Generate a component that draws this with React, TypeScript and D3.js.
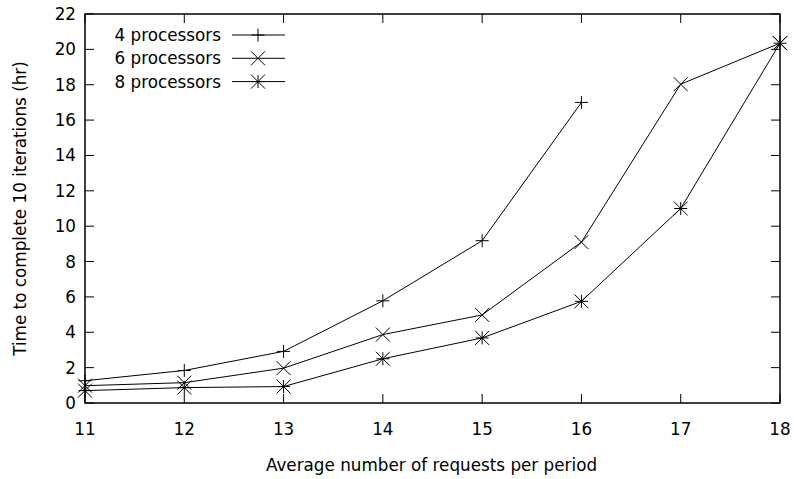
import React, { useEffect, useRef } from 'react';
import * as d3 from 'd3';

// data
const xValues = [11, 12, 13, 14, 15, 16, 17, 18];
const proc4 = [1.26, 1.84, 2.92, 5.78, 9.18, 17.0];
const proc6 = [0.98, 1.15, 1.97, 3.87, 4.98, 9.1, 18.03, 20.35];
const proc8 = [0.7, 0.87, 0.93, 2.5, 3.68, 5.75, 11.0, 20.35];
const seriesNames = ['4 processors', '6 processors', '8 processors'];
const yTicks = [0, 2, 4, 6, 8, 10, 12, 14, 16, 18, 20, 22];

const FONT = 'DejaVu Sans, Verdana, sans-serif';
const FS = 16.8;

export default function App() {
  const ref = useRef<SVGSVGElement>(null);

  useEffect(() => {
    const svg = d3.select(ref.current);
    svg.selectAll('*').remove();

    const width = 794;
    const height = 479;
    const margin = { top: 14, right: 14, bottom: 76, left: 85 };
    const x0 = margin.left, x1 = width - margin.right;
    const y0 = height - margin.bottom, y1 = margin.top;

    const x = d3.scaleLinear().domain([11, 18]).range([x0, x1]);
    const y = d3.scaleLinear().domain([0, 22]).range([y0, y1]);

    svg.append('rect').attr('width', width).attr('height', height).attr('fill', '#fff');

    const tick = 9;
    const g = svg.append('g');

    // ticks
    xValues.forEach(v => {
      g.append('line').attr('x1', x(v)).attr('x2', x(v)).attr('y1', y0).attr('y2', y0 - tick)
        .attr('stroke', '#000').attr('stroke-width', 1);
      g.append('line').attr('x1', x(v)).attr('x2', x(v)).attr('y1', y1).attr('y2', y1 + tick)
        .attr('stroke', '#000').attr('stroke-width', 1);
      g.append('text').attr('x', x(v)).attr('y', y0 + 32).attr('text-anchor', 'middle')
        .attr('font-family', FONT).attr('font-size', FS).text(v);
    });
    yTicks.forEach(v => {
      g.append('line').attr('x1', x0).attr('x2', x0 + tick).attr('y1', y(v)).attr('y2', y(v))
        .attr('stroke', '#000').attr('stroke-width', 1);
      g.append('line').attr('x1', x1).attr('x2', x1 - tick).attr('y1', y(v)).attr('y2', y(v))
        .attr('stroke', '#000').attr('stroke-width', 1);
      g.append('text').attr('x', x0 - 9).attr('y', y(v) + 6).attr('text-anchor', 'end')
        .attr('font-family', FONT).attr('font-size', FS).text(v);
    });

    // border
    g.append('rect').attr('x', x0).attr('y', y1).attr('width', x1 - x0).attr('height', y0 - y1)
      .attr('fill', 'none').attr('stroke', '#000').attr('stroke-width', 1.5);

    // axis labels
    svg.append('text').attr('x', (x0 + x1) / 2 - 1).attr('y', 471).attr('text-anchor', 'middle')
      .attr('font-family', FONT).attr('font-size', FS).text('Average number of requests per period');
    svg.append('text').attr('transform', `translate(26,${(y0 + y1) / 2}) rotate(-90)`)
      .attr('text-anchor', 'middle').attr('font-family', FONT).attr('font-size', FS)
      .text('Time to complete 10 iterations (hr)');

    const plus = (sel: any, cx: number, cy: number) => {
      const s = 6.5;
      sel.append('path').attr('d', `M${cx - s},${cy}H${cx + s}M${cx},${cy - s}V${cy + s}`)
        .attr('stroke', '#000').attr('stroke-width', 1).attr('fill', 'none');
    };
    const cross = (sel: any, cx: number, cy: number) => {
      const s = 7;
      sel.append('path').attr('d', `M${cx - s},${cy - s}L${cx + s},${cy + s}M${cx - s},${cy + s}L${cx + s},${cy - s}`)
        .attr('stroke', '#000').attr('stroke-width', 1).attr('fill', 'none');
    };
    const star = (sel: any, cx: number, cy: number) => {
      plus(sel, cx, cy);
      cross(sel, cx, cy);
    };
    const markers = [plus, cross, star];
    const allSeries = [proc4, proc6, proc8];

    const line = d3.line<[number, number]>().x(d => x(d[0])).y(d => y(d[1]));

    allSeries.forEach((vals, i) => {
      const pts = vals.map((v, j) => [xValues[j], v] as [number, number]);
      g.append('path').attr('d', line(pts)).attr('fill', 'none').attr('stroke', '#000').attr('stroke-width', 1);
      pts.forEach(p => markers[i](g, x(p[0]), y(p[1])));
    });

    // legend
    seriesNames.forEach((name, i) => {
      const ly = 35 + i * 23.3;
      g.append('text').attr('x', 221).attr('y', ly + 6).attr('text-anchor', 'end')
        .attr('font-family', FONT).attr('font-size', FS).text(name);
      g.append('line').attr('x1', 232).attr('x2', 285).attr('y1', ly).attr('y2', ly)
        .attr('stroke', '#000').attr('stroke-width', 1);
      markers[i](g, 258, ly);
    });
  }, []);

  return <svg ref={ref} width={794} height={479} style={{ position: 'absolute', left: 0, top: 0 }} />;
}
